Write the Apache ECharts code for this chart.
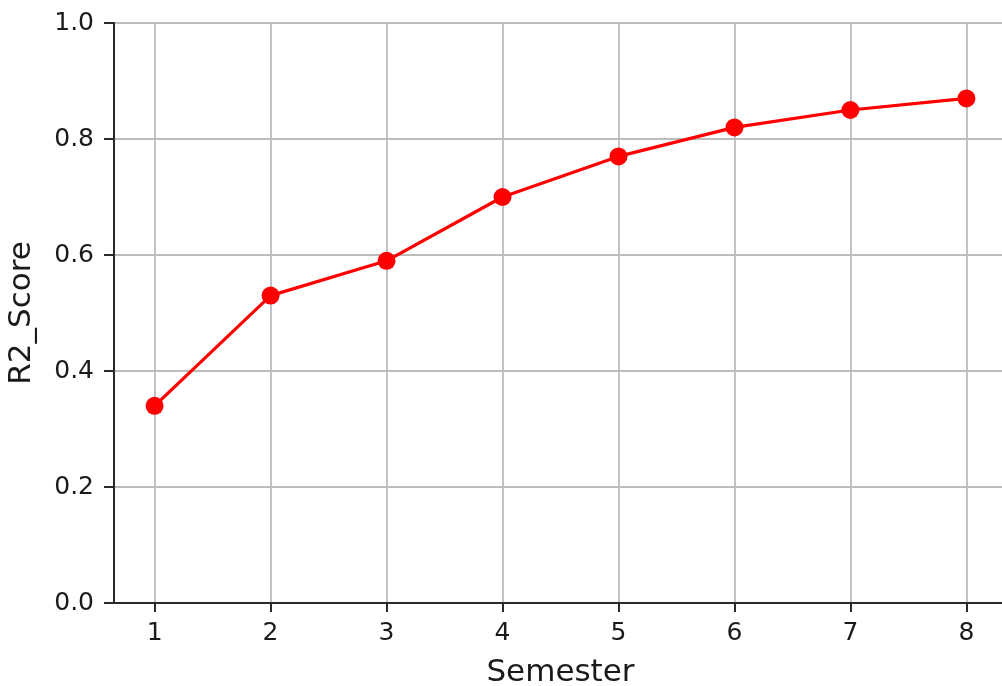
<!DOCTYPE html>
<html>
<head>
<meta charset="utf-8">
<script src="https://cdn.jsdelivr.net/npm/echarts@6/dist/echarts.min.js"></script>
<style>
html,body{margin:0;padding:0;background:#fff;}
#chart{width:1002px;height:686px;}
</style>
</head>
<body>
<div id="chart"></div>
<script>
const semesters = [1, 2, 3, 4, 5, 6, 7, 8];
const r2Scores = [0.34, 0.53, 0.59, 0.70, 0.77, 0.82, 0.85, 0.87];
const yTicks = [0, 0.2, 0.4, 0.6, 0.8, 1.0];

const chart = echarts.init(document.getElementById('chart'), null, {renderer: 'canvas'});
const font = 'DejaVu Sans';
chart.setOption({
  backgroundColor: '#fff',
  animation: false,
  grid: {
    left: 114, top: 23, width: 893, height: 580,
    outerBoundsMode: 'none',
    containLabel: false,
    show: true, borderColor: '#2a2a2a', borderWidth: 2, backgroundColor: 'transparent'
  },
  xAxis: {
    type: 'value',
    min: 0.65, max: 8.35,
    name: 'Semester',
    nameLocation: 'middle',
    nameGap: 54,
    nameTextStyle: {fontFamily: font, fontSize: 31, color: '#1a1a1a'},
    axisLine: {show: true, lineStyle: {color: '#2a2a2a', width: 2}},
    axisTick: {show: true, length: 9, lineStyle: {color: '#2a2a2a', width: 2}, customValues: semesters},
    axisLabel: {show: true, customValues: semesters, margin: 18, fontFamily: font, fontSize: 25, color: '#1a1a1a',
      formatter: v => String(Math.round(v))},
    splitLine: {show: true, lineStyle: {color: '#bcbcbc', width: 1.8}}
  },
  yAxis: {
    type: 'value',
    min: 0, max: 1, interval: 0.2,
    name: 'R2_Score',
    nameLocation: 'middle',
    nameGap: 77,
    nameTextStyle: {fontFamily: font, fontSize: 31, color: '#1a1a1a'},
    axisLine: {show: true, lineStyle: {color: '#2a2a2a', width: 2}},
    axisTick: {show: true, length: 10, lineStyle: {color: '#2a2a2a', width: 2}},
    axisLabel: {show: true, margin: 20, fontFamily: font, fontSize: 25, color: '#1a1a1a',
      formatter: v => v.toFixed(1)},
    splitLine: {show: true, lineStyle: {color: '#bcbcbc', width: 1.8}}
  },
  series: [{
    type: 'line',
    data: semesters.map((s, i) => [s, r2Scores[i]]),
    symbol: 'circle',
    symbolSize: 18,
    itemStyle: {color: '#ff0000'},
    lineStyle: {color: '#ff0000', width: 3.2},
    clip: false
  }]
});
</script>
</body>
</html>
